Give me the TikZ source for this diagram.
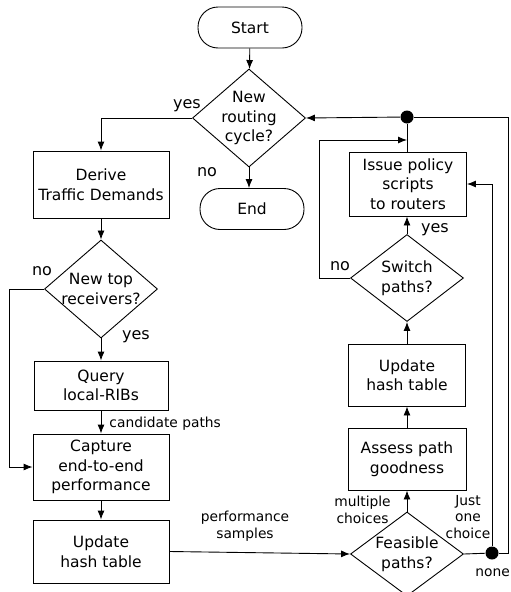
\documentclass[tikz,border=0pt]{standalone}
\usepackage{fontspec}
\setmainfont{DejaVu Sans}
\usetikzlibrary{shapes.geometric,arrows.meta}
\newcommand{\boxfont}{\fontsize{15.5}{19.5}\selectfont}
\newcommand{\ynfont}{\fontsize{16}{19}\selectfont}
\newcommand{\notefont}{\fontsize{13.8}{16.5}\selectfont}

\begin{document}
\begin{tikzpicture}[x=1pt, y=-1pt, >={Latex[length=9pt,width=7pt]}, line width=0.9pt]
      \tikzstyle{every node}=[font=\boxfont]
      \tikzstyle{terminal}=[draw, rectangle, rounded corners=20pt, minimum width=104pt, minimum height=41pt]
      \tikzstyle{process}=[draw, rectangle, align=center, inner sep=2pt]
      \tikzstyle{decision}=[draw, diamond, inner sep=0pt, minimum width=113pt]
      \tikzstyle{dtext}=[align=center, inner sep=0pt, font=\boxfont]
      \tikzstyle{yesno}=[inner sep=0pt, font=\ynfont]
      \tikzstyle{note}=[align=center, inner sep=0pt, font=\notefont]
      \tikzstyle{junction}=[circle, fill, inner sep=0pt, minimum size=13pt]

      \useasboundingbox (0,0) rectangle (511,592);
      \fill[white] (0,0) rectangle (511,592);

%% left column
  \node (start) at (250,27.5) [terminal] {Start};
  \node (cycle) at (249,118) [decision, minimum height=98pt, label={[dtext]center:New\\routing\\cycle?}] {};
  \node (stop) at (252,209) [terminal] {End};
  \node (derive) at (101,184.5) [process, minimum width=136pt, minimum height=67pt] {Derive\\Traffic Demands};
  \node (recv) at (101,289) [decision, minimum height=98pt, label={[dtext]center:New top\\receivers?}] {};
  \node (query) at (101,385.5) [process, minimum width=134pt, minimum height=49pt] {Query\\local-RIBs};
  \node (capture) at (101,467) [process, minimum width=136pt, minimum height=66pt] {Capture\\end-to-end\\performance};
  \node (hashl) at (101,551.5) [process, minimum width=136pt, minimum height=63pt] {Update\\hash table};
%% right column
  \node (feasible) at (407,554) [decision, minimum height=84pt, label={[dtext]center:Feasible\\paths?}] {};
  \node (assess) at (407,459) [process, minimum width=118pt, minimum height=62pt] {Assess path\\goodness};
  \node (hashr) at (407,375) [process, minimum width=117pt, minimum height=62pt] {Update\\hash table};
  \node (switch) at (407,278) [decision, minimum height=87pt, label={[dtext]center:Switch\\paths?}] {};
  \node (issue) at (408,184) [process, minimum width=117pt, minimum height=64pt] {Issue policy\\scripts\\to routers};
  \node (topdot) at (407,117) [junction] {};
  \node (lowdot) at (492,553) [junction] {};
  \coordinate (mergept) at (407,140);
  \coordinate (rim) at (508,553);
%% labels
  \node (yesA) at (187,106) [yesno] {yes};
  \node (noA) at (207,172) [yesno] {no};
  \node (noB) at (42,271) [yesno] {no};
  \node (yesB) at (136,337) [yesno] {yes};
  \node (yesC) at (435,230) [yesno] {yes};
  \node (noC) at (340,266) [yesno] {no};
  \node (candlbl) at (109,424) [note, anchor=west] {candidate paths};
  \node (perflbl) at (245,526) [note] {performance\\samples};
  \node (multlbl) at (362.5,510) [note] {multiple\\choices};
  \node (justlbl) at (468,517) [note] {Just\\one\\choice};
  \node (nonelbl) at (475,573) [note, anchor=west] {none};
%%
  \draw [->] (start) -- (cycle);
  \draw [->] (cycle.west) -| (derive.north);
  \draw [->] (cycle.south) -- (cycle.south |- stop.north);
  \draw [->] (derive) -- (recv);
  \draw [->] (recv.west) -- ++(-35,0) |- (capture.west);
  \draw [->] (recv) -- (query);
  \draw [->] (query) -- (capture);
  \draw [->] (capture) -- (hashl);
  \draw [->] (hashl.east) -- (feasible.west);
  \draw [->] (feasible) -- (assess);
  \draw [->] (assess) -- (hashr);
  \draw [->] (hashr) -- (switch);
  \draw [->] (switch.north) -- (switch.north |- issue.south);
  \draw [->] (switch.west) -- ++(-31,0) |- (mergept);
  \draw (issue.north -| topdot) -- (topdot);
  \draw [->] (topdot) -- (cycle.east);
  \draw (feasible.east) -- (lowdot);
  \draw [->] (lowdot) |- (issue.east);
  \draw (lowdot) -- (rim) |- (topdot);
%
\end{tikzpicture}
\end{document}
